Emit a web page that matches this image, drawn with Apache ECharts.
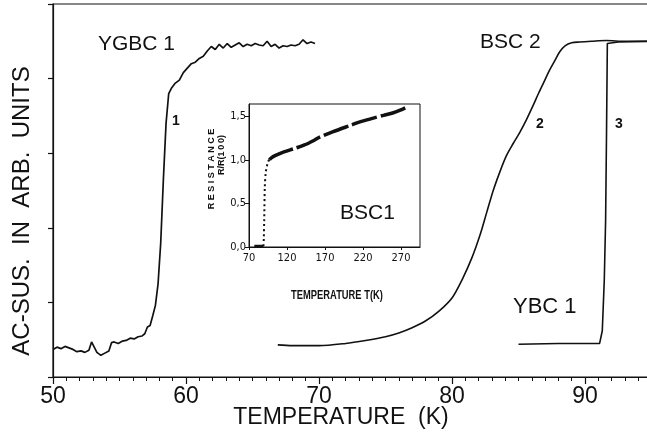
<!DOCTYPE html>
<html>
<head>
<meta charset="UTF-8">
<title>AC susceptibility vs temperature</title>
<script src="https://cdn.jsdelivr.net/npm/echarts@6/dist/echarts.min.js"></script>
<style>
  html, body { margin: 0; padding: 0; background: #fff; }
  #main { width: 647px; height: 434px; }
</style>
</head>
<body>
<div id="main"></div>
<script>
// main plot: temperature (K) vs ac susceptibility (arb. units, 0..5)
var ygbcT = [50.0, 50.3, 50.6, 50.9, 51.2, 51.5, 51.8, 52.1, 52.4, 52.7, 52.9, 53.1, 53.3, 53.6, 53.9,
  54.2, 54.4, 54.6, 54.9, 55.2, 55.5, 55.8, 56.1, 56.4, 56.7, 56.9, 57.1, 57.3, 57.5, 57.7, 57.9,
  58.1, 58.3, 58.5, 58.7, 58.9, 59.2, 59.5, 59.8, 60.1, 60.4, 60.7, 61.0, 61.3, 61.6, 61.9, 62.2,
  62.5, 62.8, 63.1, 63.4, 63.7, 64.0, 64.3, 64.6, 64.9, 65.2, 65.5, 65.8, 66.1, 66.4, 66.7, 67.0,
  67.3, 67.6, 67.9, 68.2, 68.5, 68.8, 69.1, 69.4, 69.7];
var ygbcV = [0.37, 0.40, 0.38, 0.41, 0.39, 0.37, 0.34, 0.35, 0.33, 0.36, 0.47, 0.40, 0.33, 0.29, 0.32,
  0.35, 0.46, 0.47, 0.45, 0.48, 0.49, 0.52, 0.51, 0.54, 0.55, 0.58, 0.67, 0.69, 0.82, 0.96, 1.25,
  1.80, 2.65, 3.40, 3.80, 3.87, 3.94, 3.98, 4.08, 4.14, 4.20, 4.22, 4.27, 4.30, 4.37, 4.43, 4.39,
  4.46, 4.41, 4.47, 4.42, 4.45, 4.48, 4.43, 4.46, 4.44, 4.47, 4.45, 4.44, 4.50, 4.43, 4.46, 4.41,
  4.44, 4.43, 4.45, 4.44, 4.46, 4.52, 4.47, 4.49, 4.47];

var bscT = [66.9, 68, 70, 72, 73.5, 75, 76, 77, 78, 79, 80, 80.8, 81.5, 82.1, 82.6, 83.1, 83.6, 84.1,
  84.6, 85.1, 85.6, 86.1, 86.5, 86.9, 87.3, 87.7, 88.1, 88.5, 89, 89.6, 90.5, 91.6, 93, 95];
var bscV = [0.43, 0.42, 0.42, 0.45, 0.49, 0.54, 0.59, 0.66, 0.75, 0.88, 1.06, 1.32, 1.6, 1.9, 2.2, 2.5,
  2.75, 2.97, 3.13, 3.28, 3.45, 3.64, 3.8, 3.95, 4.1, 4.23, 4.36, 4.44, 4.48, 4.49, 4.5, 4.51, 4.5, 4.5];

var ybcT = [85.0, 88.0, 91.1, 91.3, 91.45, 91.55, 91.62, 91.68, 92.5, 95];
var ybcV = [0.44, 0.45, 0.45, 0.62, 1.3, 2.1, 3.3, 4.47, 4.49, 4.5];

// inset: resistance R/R(100) vs temperature T(K)
var lowT = [77, 80, 83, 86, 89];
var lowR = [0.01, 0.01, 0.01, 0.01, 0.01];
var riseT = [89, 89.5, 90, 90.8, 92, 93.4, 95.2, 97];
var riseR = [0.01, 0.1, 0.3, 0.69, 0.85, 0.92, 0.98, 1.0];
var normT = [97, 99, 105, 116, 130, 143, 156, 163, 180, 205, 216, 230, 247, 260, 269, 280];
var normR = [1.0, 1.02, 1.05, 1.09, 1.13, 1.17, 1.225, 1.26, 1.32, 1.40, 1.435, 1.47, 1.51, 1.54, 1.57, 1.615];

var insetXLabels = [70, 120, 170, 220, 270];
var insetYLabels = [0, 0.5, 1, 1.5];

function pairs(xs, ys) {
  var out = [];
  for (var i = 0; i < xs.length; i++) out.push([xs[i], ys[i]]);
  return out;
}

var ink = '#111';
var font = 'Liberation Sans, Arial, sans-serif';
var narrow = '"Liberation Sans Narrow", "DejaVu Sans Condensed", sans-serif';

var myChart = echarts.init(document.getElementById('main'));

var option = {
  backgroundColor: '#fff',
  animation: false,
  grid: [
    // 50..100 K over 665 px: the axis runs on past the picture's right edge (cut at ~94.7 K)
    { left: 53, top: 4, width: 665, bottom: 57, outerBoundsMode: 'none',
      show: true, borderColor: ink, borderWidth: 1.2 },
    { left: 249, top: 104, right: 227, bottom: 187, outerBoundsMode: 'none',
      show: true, borderColor: ink, borderWidth: 1, backgroundColor: '#fff' }
  ],
  xAxis: [{
    gridIndex: 0, type: 'value', min: 50, max: 100, interval: 10,
    axisLine: { lineStyle: { color: ink, width: 1.2 } },
    axisTick: { length: 7, lineStyle: { color: ink, width: 1.2 } },
    minorTick: { show: true, splitNumber: 10, length: 4, lineStyle: { color: ink, width: 1 } },
    axisLabel: { color: ink, fontSize: 23, fontFamily: font, margin: 8, showMaxLabel: false },
    splitLine: { show: false }
  }, {
    gridIndex: 1, type: 'value', min: 70, max: 295,
    axisLine: { lineStyle: { color: ink, width: 1 } },
    axisTick: { length: 3, customValues: insetXLabels, lineStyle: { color: ink } },
    axisLabel: { customValues: insetXLabels, color: ink, fontSize: 11, fontFamily: narrow, margin: 6 },
    splitLine: { show: false }
  }],
  yAxis: [{
    gridIndex: 0, type: 'value', min: 0, max: 5, interval: 1,
    axisLine: { lineStyle: { color: ink, width: 1.2 } },
    axisTick: { length: 5, lineStyle: { color: ink, width: 1.2 } },
    axisLabel: { show: false },
    splitLine: { show: false }
  }, {
    gridIndex: 1, type: 'value', min: 0, max: 1.64,
    axisLine: { lineStyle: { color: ink, width: 1 } },
    axisTick: { length: 4, customValues: insetYLabels, lineStyle: { color: ink } },
    axisLabel: {
      customValues: insetYLabels, color: ink, fontSize: 11, fontFamily: narrow, margin: 3,
      formatter: function (v) { return v.toFixed(1).replace('.', ','); }
    },
    splitLine: { show: false }
  }],
  series: [
    { name: 'YGBC 1', type: 'line', xAxisIndex: 0, yAxisIndex: 0, showSymbol: false,
      lineStyle: { color: ink, width: 1.7 }, data: pairs(ygbcT, ygbcV) },
    { name: 'BSC 2', type: 'line', xAxisIndex: 0, yAxisIndex: 0, showSymbol: false, smooth: 0.3,
      lineStyle: { color: ink, width: 1.6 }, data: pairs(bscT, bscV) },
    { name: 'YBC 1', type: 'line', xAxisIndex: 0, yAxisIndex: 0, showSymbol: false,
      lineStyle: { color: ink, width: 1.6 }, data: pairs(ybcT, ybcV) },
    { name: 'low', type: 'line', xAxisIndex: 1, yAxisIndex: 1, showSymbol: false,
      lineStyle: { color: ink, width: 3 }, data: pairs(lowT, lowR) },
    { name: 'rise', type: 'line', xAxisIndex: 1, yAxisIndex: 1, showSymbol: false, smooth: 0.3,
      lineStyle: { color: ink, width: 2, type: [2, 3] }, data: pairs(riseT, riseR) },
    { name: 'BSC1', type: 'line', xAxisIndex: 1, yAxisIndex: 1, showSymbol: false, smooth: 0.3,
      lineStyle: { color: ink, width: 3.5, type: [26, 4] }, data: pairs(normT, normR) }
  ],
  graphic: [
    { type: 'text', x: 22, y: 211, rotation: Math.PI / 2,
      style: { text: 'AC-SUS.  IN  ARB.  UNITS', fill: ink, font: '24px ' + font, textAlign: 'center', textVerticalAlign: 'middle' } },
    { type: 'text', x: 341, y: 418,
      style: { text: 'TEMPERATURE  (K)', fill: ink, font: '23px ' + font, textAlign: 'center', textVerticalAlign: 'middle' } },
    { type: 'text', x: 98, y: 44,
      style: { text: 'YGBC 1', fill: ink, font: '21px ' + font, textAlign: 'left', textVerticalAlign: 'middle' } },
    { type: 'text', x: 480, y: 42,
      style: { text: 'BSC 2', fill: ink, font: '21px ' + font, textAlign: 'left', textVerticalAlign: 'middle' } },
    { type: 'text', x: 513, y: 307,
      style: { text: 'YBC 1', fill: ink, font: '22px ' + font, textAlign: 'left', textVerticalAlign: 'middle' } },
    { type: 'text', x: 340, y: 213,
      style: { text: 'BSC1', fill: ink, font: '21px ' + font, textAlign: 'left', textVerticalAlign: 'middle' } },
    { type: 'text', x: 176, y: 121,
      style: { text: '1', fill: ink, font: 'bold 14px ' + font, textAlign: 'center', textVerticalAlign: 'middle' } },
    { type: 'text', x: 540, y: 124,
      style: { text: '2', fill: ink, font: 'bold 14px ' + font, textAlign: 'center', textVerticalAlign: 'middle' } },
    { type: 'text', x: 619, y: 124,
      style: { text: '3', fill: ink, font: 'bold 14px ' + font, textAlign: 'center', textVerticalAlign: 'middle' } },
    { type: 'text', x: 212, y: 169, rotation: Math.PI / 2,
      style: { text: 'R E S I S T A N C E', fill: ink, font: 'bold 9px ' + font, textAlign: 'center', textVerticalAlign: 'middle' } },
    { type: 'text', x: 222, y: 155, rotation: Math.PI / 2,
      style: { text: 'R/R(1\u20090\u20090)', fill: ink, font: 'bold 9px ' + font, textAlign: 'center', textVerticalAlign: 'middle' } },
    { type: 'text', x: 337, y: 295, scaleX: 0.72,
      style: { text: 'TEMPERATURE T(K)', fill: ink, font: 'bold 13px ' + font, textAlign: 'center', textVerticalAlign: 'middle' } }
  ]
};

myChart.setOption(option);
</script>
</body>
</html>
